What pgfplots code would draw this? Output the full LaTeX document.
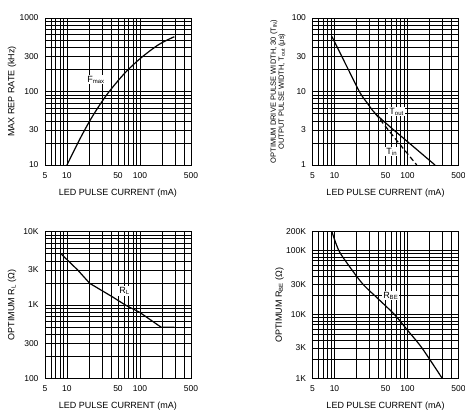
\documentclass[border=0pt]{standalone}
\usepackage{pgfplots}
\pgfplotsset{compat=1.18}
\usepackage{fontspec}
\setmainfont{Liberation Sans}
\pgfplotsset{
    scale only axis, width=146pt, height=147pt,
    xmin=5, xmax=500,
    xtick={5,10,50,100,500}, xticklabels={5,10,50,100,500},
    minor xtick={6,7,8,9,20,30,40,60,70,80,90,200,300,400},
    grid=both,
    major grid style={black, line width=0.5pt},
    minor grid style={black, line width=0.45pt},
    major tick length=0pt, minor tick length=0pt,
    axis line style={black, line width=0.9pt},
    tick label style={font=\fontsize{8.5}{9}\selectfont},
    xticklabel style={yshift=-4pt},
    yticklabel style={xshift=-3pt},
    xlabel={LED PULSE CURRENT (mA)},
    xlabel style={at={(axis description cs:0.5,-0.19)}, anchor=center, font=\fontsize{9}{10}\selectfont},
    ylabel style={at={(axis description cs:-0.225,0.5)}, anchor=center, font=\fontsize{9}{10}\selectfont},
}
\pgfkeys{/pgf/number format/assume math mode=true}
\begin{document}
\begin{tikzpicture}
\useasboundingbox (0,0) rectangle (465pt,410pt);
% ---------- top left ----------
\begin{axis}[xmode=log, ymode=log, anchor=south west, at={(45pt,245pt)},
  ymin=10, ymax=1000,
  ytick={10,30,100,300,1000}, yticklabels={10,30,100,300,1000},
  minor ytick={20,40,50,60,70,80,90,200,400,500,600,700,800,900},
  ylabel={MAX REP RATE (kHz)}]
\addplot[black, line width=1.2pt, no markers, smooth] coordinates {(10,10) (15,22.5) (22,44.8) (35,90) (60,172) (100,279) (180,434) (295,556)};
\node[fill=white, inner sep=1pt, font=\fontsize{9}{10}\selectfont] at (axis cs:25,144) {F\textsubscript{max}};
\end{axis}
% ---------- top right ----------
\begin{axis}[xmode=log, ymode=log, anchor=south west, at={(312.5pt,245pt)},
  ymin=1, ymax=100,
  ytick={1,3,10,30,100}, yticklabels={1,3,10,30,100},
  minor ytick={2,4,5,6,7,8,9,20,40,50,60,70,80,90},
  ylabel={\begin{tabular}{c}OPTIMUM DRIVE PULSE WIDTH, 30 (T\textsubscript{IN})\\OUTPUT PULSE WIDTH, T\textsubscript{out} (μs)\end{tabular}},
  ylabel style={at={(axis description cs:-0.235,0.5)}, anchor=center, font=\fontsize{7.5}{8}\selectfont}]
\addplot[black, line width=1.2pt, no markers, smooth] coordinates {(9.2,56) (12.6,30) (17,16.5) (22.4,9.6) (28,7) (36,5.06) (60,3.2) (108,1.95) (238,1)};
\addplot[black, line width=1.2pt, no markers, dash pattern=on 5pt off 3pt] coordinates {(36,5.06) (70,2.2) (134,1)};
\node[fill=white, inner sep=1pt, font=\fontsize{9}{10}\selectfont] at (axis cs:71,5.3) {T\textsubscript{out}};
\node[fill=white, inner sep=1pt, font=\fontsize{9}{10}\selectfont] at (axis cs:61,1.52) {T\textsubscript{in}};
\end{axis}
% ---------- bottom left ----------
\begin{axis}[xmode=log, ymode=log, anchor=south west, at={(45pt,31.5pt)},
  ymin=100, ymax=10000,
  ytick={100,300,1000,3000,10000}, yticklabels={100,300,1K,3K,10K},
  minor ytick={200,400,500,600,700,800,900,2000,4000,5000,6000,7000,8000,9000},
  ylabel={OPTIMUM R\textsubscript{L} (Ω)}]
\addplot[black, line width=1.2pt, no markers] coordinates {(8.4,4900) (14,3000) (20.5,1970) (42,1290) (64,990) (98,800) (194,500) (296,500)};
\node[fill=white, inner sep=1pt, font=\fontsize{9}{10}\selectfont] at (axis cs:61.6,1550) {R\textsubscript{L}};
\end{axis}
% ---------- bottom right ----------
\begin{axis}[xmode=log, ymode=log, anchor=south west, at={(312.5pt,31.5pt)},
  ymin=1000, ymax=200000,
  ytick={1000,3000,10000,30000,100000,200000}, yticklabels={1K,3K,10K,30K,100K,200K},
  minor ytick={2000,4000,5000,6000,7000,8000,9000,20000,40000,50000,60000,70000,80000,90000},
  ylabel={OPTIMUM R\textsubscript{BE} (Ω)}]
\addplot[black, line width=1.2pt, no markers, smooth] coordinates {(9.2,200000) (11.5,100000) (16,57000) (24.5,30000) (40,17500) (66.5,10000) (100,5700) (158,3000) (300,1000)};
\node[fill=white, inner sep=1pt, font=\fontsize{9}{10}\selectfont] at (axis cs:59,19800) {R\textsubscript{BE}};
\end{axis}
\end{tikzpicture}
\end{document}
